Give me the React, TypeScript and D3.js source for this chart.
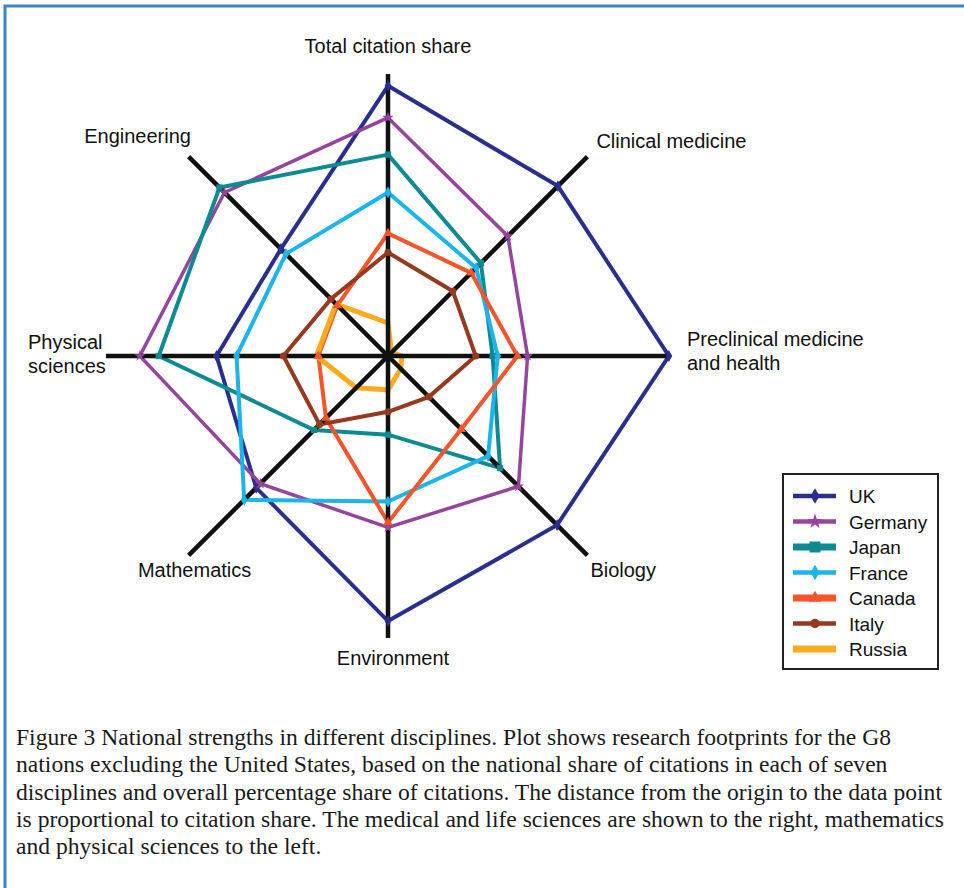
import React, { useEffect, useRef } from "react";
import * as d3 from "d3";

// disciplines, clockwise from the top
const disciplines = [
  "Total citation share",
  "Clinical medicine",
  "Preclinical medicine and health",
  "Biology",
  "Environment",
  "Mathematics",
  "Physical sciences",
  "Engineering",
];

const countries = ["UK", "Germany", "Japan", "France", "Canada", "Italy", "Russia"];

// relative citation share per discipline
const ukShare = [9.58, 8.52, 9.96, 8.48, 9.4, 6.61, 6.08, 5.37];
const germanyShare = [8.45, 6.01, 4.95, 6.54, 6.08, 6.4, 8.8, 8.2];
const japanShare = [7.14, 4.66, 3.71, 5.62, 2.79, 3.71, 8.13, 8.45];
const franceShare = [5.8, 4.42, 3.89, 5.02, 5.16, 7.21, 5.37, 5.12];
const canadaShare = [4.35, 4.17, 4.59, 3.67, 5.9, 3.11, 2.47, 2.54];
const italyShare = [3.67, 3.25, 3.11, 2.05, 1.98, 3.43, 3.71, 2.86];
const russiaShare = [1.17, 0.18, 0.49, 0.64, 1.2, 1.59, 2.54, 2.61];

const maxShare = 10;

const caption = [
  "Figure 3 National strengths in different disciplines. Plot shows research footprints for the G8",
  "nations excluding the United States, based on the national share of citations in each of seven",
  "disciplines and overall percentage share of citations. The distance from the origin to the data point",
  "is proportional to citation share. The medical and life sciences are shown to the right, mathematics",
  "and physical sciences to the left.",
];

const colors = ["#2a2f8f", "#94469c", "#0e8a93", "#1bb5ec", "#f6552b", "#963a1f", "#fbab1c"];
const widths = [4, 3.5, 4, 4, 4, 4, 5];
const markers = [d3.symbolDiamond, d3.symbolStar, d3.symbolSquare, d3.symbolDiamond, d3.symbolTriangle, d3.symbolCircle, null];

// label placement relative to the axis end
const labelOffsets: [number, number, string][] = [
  [0, -21, "middle"],
  [9, -9, "start"],
  [17, -10, "start"],
  [3, 22, "start"],
  [5, 27, "middle"],
  [6, 22, "middle"],
  [-78, -7, "start"],
  [-51, -14, "middle"],
];
const labelLines = [
  ["Total citation share"],
  ["Clinical medicine"],
  ["Preclinical medicine", "and health"],
  ["Biology"],
  ["Environment"],
  ["Mathematics"],
  ["Physical", "sciences"],
  ["Engineering"],
];

export default function App() {
  const ref = useRef<SVGSVGElement>(null);

  useEffect(() => {
    const svg = d3.select(ref.current);
    svg.selectAll("*").remove();

    const width = 964, height = 888;
    const cx = 388, cy = 356, R = 282;
    const series = [ukShare, germanyShare, japanShare, franceShare, canadaShare, italyShare, russiaShare];

    const r = d3.scaleLinear().domain([0, maxShare]).range([0, R]);
    const step = (2 * Math.PI) / disciplines.length;
    const ang = (i: number) => i * step;
    const px = (i: number, v: number) => cx + r(v) * Math.sin(ang(i));
    const py = (i: number, v: number) => cy - r(v) * Math.cos(ang(i));

    svg.append("rect").attr("width", width).attr("height", height).attr("fill", "#fff");

    // blue frame
    svg.append("path")
      .attr("d", `M5,${height} L5,6 L${width},6`)
      .attr("fill", "none")
      .attr("stroke", "#3b86c8")
      .attr("stroke-width", 3);

    const plot = svg.append("g");

    // footprints
    const line = d3.lineRadial<number>()
      .angle((d, i) => ang(i))
      .radius(d => r(d))
      .curve(d3.curveLinearClosed);

    series.forEach((vals, k) => {
      plot.append("path")
        .attr("transform", `translate(${cx},${cy})`)
        .attr("d", line(vals))
        .attr("fill", "none")
        .attr("stroke", colors[k])
        .attr("stroke-width", widths[k])
        .attr("stroke-linejoin", "miter");
    });

    // axes
    disciplines.forEach((d, i) => {
      plot.append("line")
        .attr("x1", cx).attr("y1", cy)
        .attr("x2", px(i, maxShare)).attr("y2", py(i, maxShare))
        .attr("stroke", "#111")
        .attr("stroke-width", 4.5);
    });

    // vertex markers
    series.forEach((vals, k) => {
      if (!markers[k]) return;
      const sym = d3.symbol().type(markers[k]!).size(40);
      plot.selectAll(null)
        .data(vals)
        .enter()
        .append("path")
        .attr("d", sym)
        .attr("transform", (v, i) => `translate(${px(i, v)},${py(i, v)})`)
        .attr("fill", colors[k]);
    });

    // axis labels
    disciplines.forEach((d, i) => {
      const [ox, oy, anchor] = labelOffsets[i];
      const t = plot.append("text")
        .attr("x", px(i, maxShare) + ox)
        .attr("y", py(i, maxShare) + oy)
        .attr("text-anchor", anchor)
        .attr("font-family", "Liberation Sans, Arial, sans-serif")
        .attr("font-size", 20)
        .attr("fill", "#111");
      labelLines[i].forEach((s, j) => {
        t.append("tspan").attr("x", px(i, maxShare) + ox).attr("dy", j === 0 ? 0 : 24).text(s);
      });
    });

    // legend
    const lg = svg.append("g").attr("transform", "translate(783,474)");
    lg.append("rect")
      .attr("width", 155).attr("height", 195)
      .attr("fill", "#fff").attr("stroke", "#222").attr("stroke-width", 2);
    const rowY = d3.scalePoint<string>().domain(countries).range([22, 175]);
    countries.forEach((c, k) => {
      const y = rowY(c)!;
      lg.append("line")
        .attr("x1", 10).attr("x2", 53).attr("y1", y).attr("y2", y)
        .attr("stroke", colors[k]).attr("stroke-width", k === 2 || k === 4 || k === 6 ? 7 : 4.5);
      if (markers[k]) {
        lg.append("path")
          .attr("d", d3.symbol().type(markers[k]!).size(k === 2 ? 120 : 70)())
          .attr("transform", `translate(32,${y})`)
          .attr("fill", colors[k]);
      }
      lg.append("text")
        .attr("x", 66).attr("y", y + 7)
        .attr("font-family", "Liberation Sans, Arial, sans-serif")
        .attr("font-size", 19)
        .attr("fill", "#111")
        .text(c);
    });

    // caption
    const cap = svg.append("text")
      .attr("font-family", "Liberation Serif, Times New Roman, serif")
      .attr("font-size", 23.6)
      .attr("fill", "#1a1a1a");
    caption.forEach((s, j) => {
      cap.append("tspan").attr("x", 16).attr("y", 745 + j * 27.3).text(s);
    });
  }, []);

  return (
    <svg ref={ref} width={964} height={888}
      style={{ position: "absolute", left: 0, top: 0, display: "block" }} />
  );
}
